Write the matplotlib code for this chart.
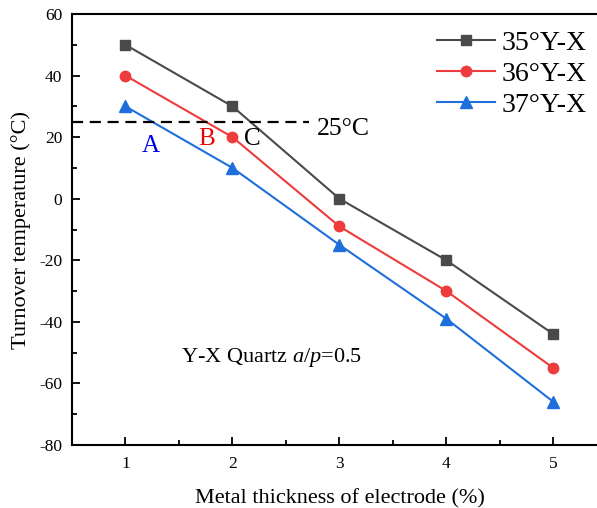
import matplotlib
matplotlib.use('Agg')
import matplotlib.pyplot as plt
from matplotlib.ticker import MultipleLocator

plt.rcParams['font.family'] = ['Liberation Serif', 'DejaVu Serif']
plt.rcParams['mathtext.fontset'] = 'custom'
plt.rcParams['mathtext.rm'] = 'Liberation Serif'
plt.rcParams['mathtext.it'] = 'Liberation Serif:italic'
plt.rcParams['axes.unicode_minus'] = False

thickness = [1, 2, 3, 4, 5]
cut_35 = [50, 30, 0, -20, -44]
cut_36 = [40, 20, -9, -30, -55]
cut_37 = [30, 10, -15, -39, -66]
room_temp = 25

fig = plt.figure(figsize=(5.97, 5.08), dpi=100)
ax = fig.add_axes([0.1206, 0.124, 0.896, 0.8484])

ax.plot(thickness, cut_35, color='#4a4a4a', marker='s', ms=6.5, lw=1.5, label='35°Y-X')
ax.plot(thickness, cut_36, color='#ee3b3b', marker='o', ms=7.5, lw=1.5, label='36°Y-X')
ax.plot(thickness, cut_37, color='#1e6fdc', marker='^', ms=8.5, lw=1.5, label='37°Y-X')

ax.plot([0.5, 2.72], [room_temp, room_temp], color='black', ls=(0, (5, 3)), lw=1.6)
ax.text(2.79, room_temp - 2.5, '25°C', fontsize=18.5, va='center', ha='left')

ax.text(1.24, 17, 'A', color='#0000ee', fontsize=18, ha='center', va='center')
ax.text(1.76, 19.5, 'B', color='#ee0000', fontsize=18, ha='center', va='center')
ax.text(2.19, 19.5, 'C', color='black', fontsize=18, ha='center', va='center')

ax.text(1.52, -51.5, 'Y-X Quartz $a/p$=0.5', fontsize=16, ha='left', va='center')

ax.set_xlim(0.5, 5.5)
ax.set_ylim(-80, 60)
ax.xaxis.set_major_locator(MultipleLocator(1))
ax.xaxis.set_minor_locator(MultipleLocator(0.5))
ax.yaxis.set_major_locator(MultipleLocator(20))
ax.yaxis.set_minor_locator(MultipleLocator(10))
ax.tick_params(which='major', direction='in', length=6, width=1.3, labelsize=12.5)
ax.tick_params(which='minor', direction='in', length=3.5, width=1.3)
ax.tick_params(axis='x', pad=8)
ax.tick_params(axis='y', pad=7)
for s in ax.spines.values():
    s.set_linewidth(1.5)

ax.set_xlabel('Metal thickness of electrode (%)', fontsize=16, labelpad=12)
ax.set_ylabel('Turnover temperature (°C)', fontsize=16, labelpad=6)

leg = ax.legend(loc='upper left', bbox_to_anchor=(0.635, 1.02), frameon=False,
                fontsize=20, handlelength=2.1, handletextpad=0.25, labelspacing=0.2)

fig.savefig('out.png', dpi=100)
